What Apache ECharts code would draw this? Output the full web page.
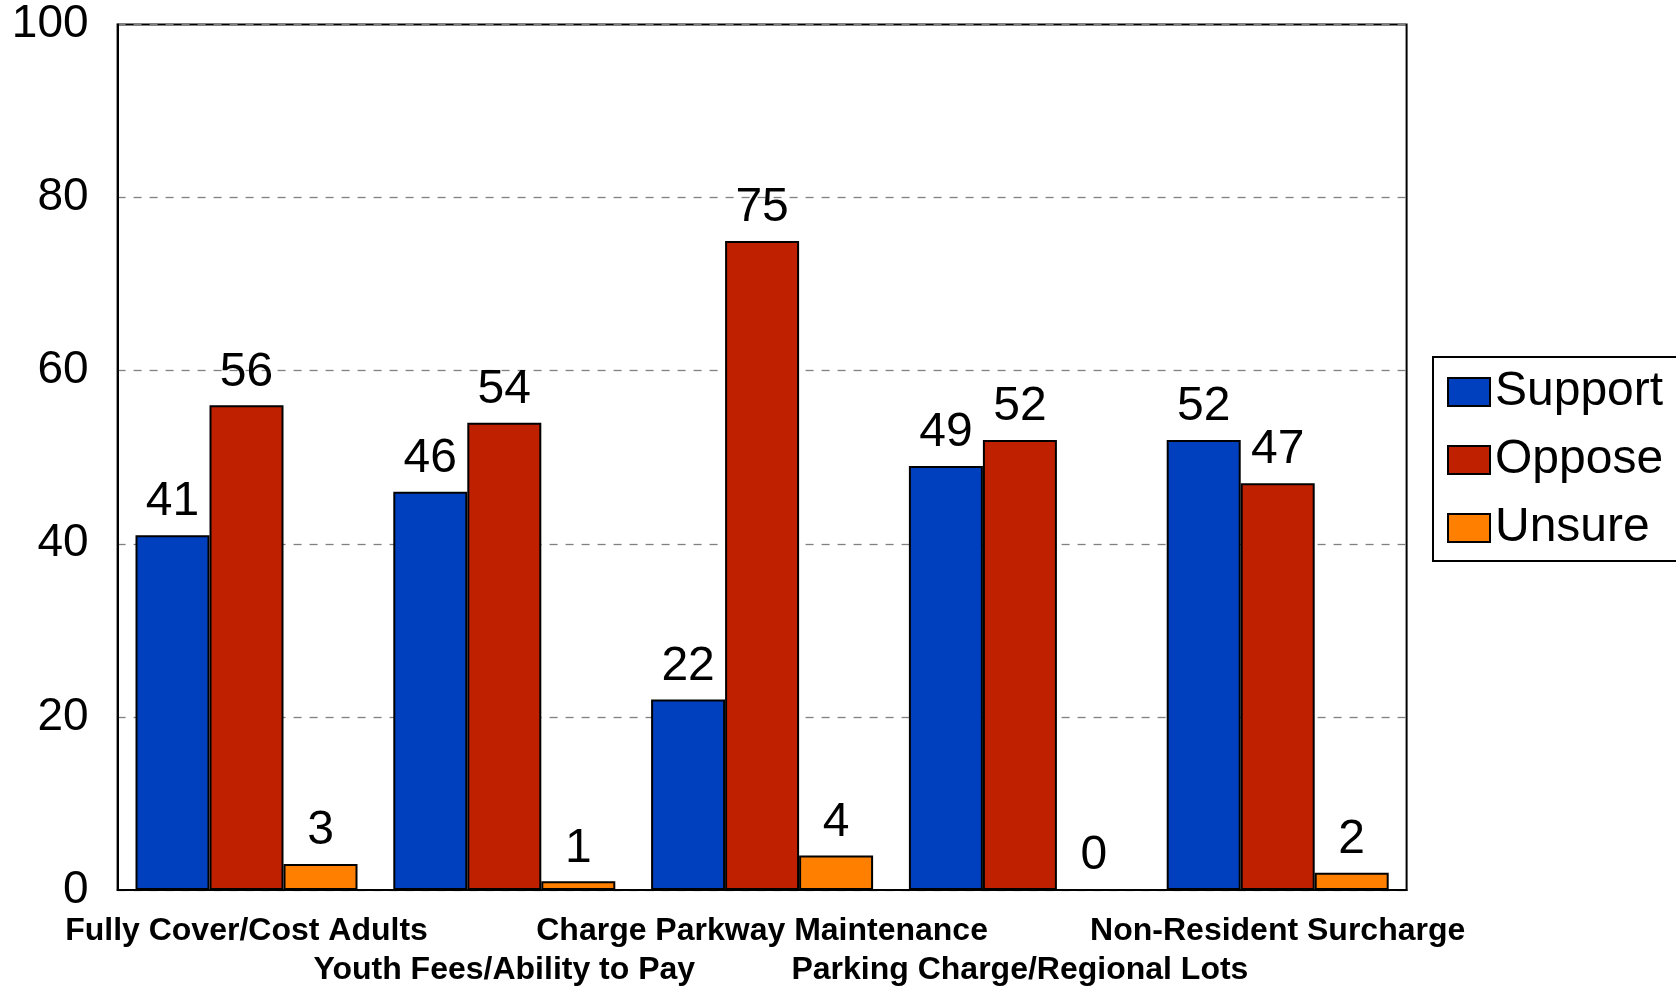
<!DOCTYPE html>
<html>
<head>
<meta charset="utf-8">
<script src="https://cdn.jsdelivr.net/npm/echarts@6/dist/echarts.min.js"></script>
<style>html,body{margin:0;padding:0;background:#fff;}#c{width:1676px;height:990px;}</style>
</head>
<body>
<div id="c"></div>
<script>
var categories = ['Fully Cover/Cost Adults', 'Youth Fees/Ability to Pay', 'Charge Parkway Maintenance', 'Parking Charge/Regional Lots', 'Non-Resident Surcharge'];
var support = [41, 46, 22, 49, 52];
var oppose = [56, 54, 75, 52, 47];
var unsure = [3, 1, 4, 0, 2];
var seriesNames = ['Support', 'Oppose', 'Unsure'];
var colors = ['#0040BF', '#BF2000', '#FF8000'];

var FONT = 'Liberation Sans, Arial, sans-serif';
var chart = echarts.init(document.getElementById('c'));
function mk(name, data, color) {
  return {
    name: name, type: 'bar', data: data, barWidth: 74, barGap: '0%',
    itemStyle: { color: color, borderColor: '#000', borderWidth: 2 },
    label: { show: true, position: 'top', distance: 9, color: '#000', fontSize: 48, fontFamily: FONT },
    animation: false
  };
}
chart.setOption({
  animation: false,
  backgroundColor: '#fff',
  grid: { left: 117.6, right: 269.4, top: 24.5, bottom: 94.5, show: true, borderColor: '#000', borderWidth: 2 },
  legend: {
    orient: 'vertical', left: 1433, top: 357,
    itemWidth: 42, itemHeight: 28, itemGap: 20,
    padding: [11, 20, 9, 14],
    borderColor: '#000', borderWidth: 2,
    icon: 'rect',
    textStyle: { fontSize: 48, color: '#000', fontFamily: FONT },
    data: seriesNames
  },
  xAxis: {
    type: 'category', data: categories,
    axisLine: { show: true, lineStyle: { color: '#000', width: 2 } },
    axisTick: { show: false },
    axisLabel: {
      interval: 0, margin: 22, fontSize: 32, fontWeight: 'bold', color: '#000', fontFamily: FONT, lineHeight: 39,
      formatter: function (v, i) { return i % 2 === 1 ? '\n' + v : v; }
    }
  },
  yAxis: {
    type: 'value', min: 0, max: 100, interval: 20,
    axisLine: { show: true, lineStyle: { color: '#000', width: 2 } },
    axisTick: { show: false },
    axisLabel: { fontSize: 46, color: '#000', fontFamily: FONT, margin: 29 },
    splitLine: { show: true, lineStyle: { color: '#808080', type: [8, 8], width: 1.3 } }
  },
  series: [mk(seriesNames[0], support, colors[0]), mk(seriesNames[1], oppose, colors[1]), mk(seriesNames[2], unsure, colors[2])]
});
</script>
</body>
</html>
